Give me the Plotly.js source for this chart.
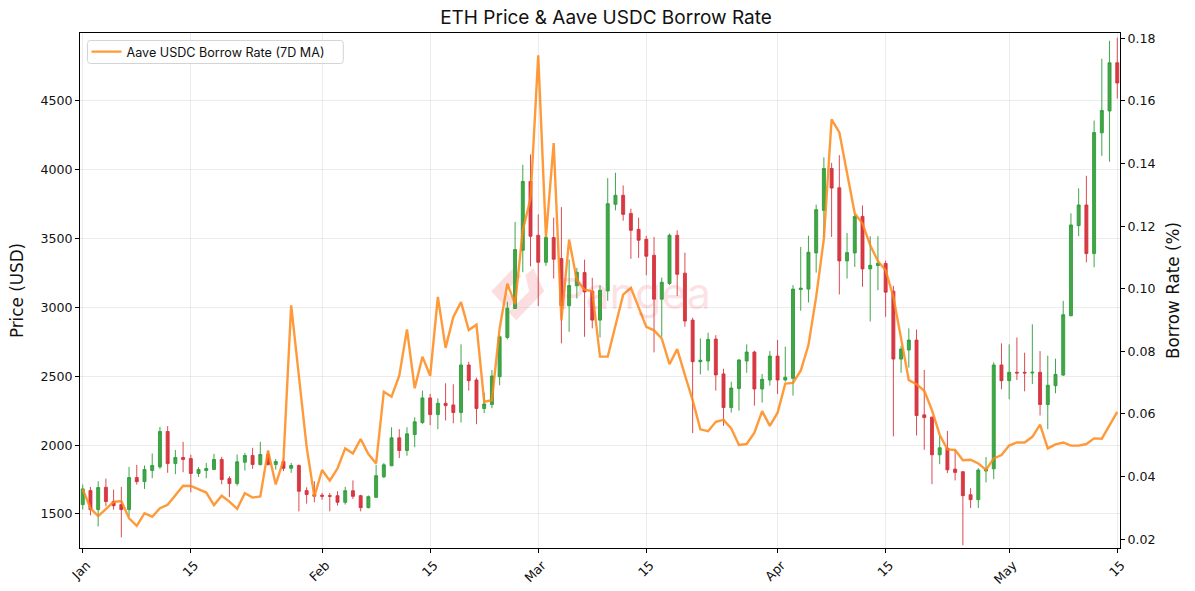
<!DOCTYPE html>
<html><head><meta charset="utf-8">
<script src="https://cdn.plot.ly/plotly-3.0.1.min.js"></script>
<style>html,body{margin:0;padding:0;background:#fff}</style></head>
<body><div id="chart" style="width:1195px;height:591px"></div>
<script>
const startDate = '2025-01-01';
const open = [1568,1670,1532,1694,1592,1568,1532,1765,1735,1816,1842,2099,1866,1910,1903,1794,1816,1823,1896,1757,1721,1876,1925,1859,1932,1859,1881,1832,1852,1670,1641,1636,1633,1633,1585,1669,1633,1546,1621,1770,1850,2053,1961,2077,2164,2343,2222,2304,2292,2237,2582,2473,2266,2295,2497,2782,2993,3415,3915,3524,3328,3507,3355,3012,3157,3253,3118,2908,3120,3749,3814,3683,3567,3495,3379,3060,3174,3524,3249,2908,2606,2611,2770,2517,2273,2411,2611,2676,2408,2473,2647,2473,2485,3130,3133,3396,3705,4009,3869,3338,3396,3661,3280,3304,3319,3118,2625,2691,2763,2220,2203,1930,1978,1826,1807,1640,1604,1812,1828,2582,2468,2529,2529,2524,2529,2295,2432,2509,2940,3594,3744,3391,4268,4427,4777];
const high = [1714,1697,1738,1757,1677,1697,1842,1857,1852,1939,2133,2138,1964,2024,1930,1840,1871,1937,1915,1774,1932,1944,1981,2024,1961,1900,1908,1871,1860,1694,1738,1653,1653,1665,1697,1744,1640,1635,1857,1870,2130,2116,2130,2203,2396,2372,2340,2449,2442,2732,2606,2490,2381,2546,2800,3041,3621,4036,4111,3676,3520,3652,3729,3347,3287,3347,3215,3162,3939,3978,3886,3717,3652,3519,3512,3217,3536,3560,3398,2925,2775,2816,2799,2555,2461,2625,2732,2686,2517,2683,2763,2715,3162,3439,3521,3746,4091,4050,4106,3541,3680,3741,3517,3517,3340,3157,2722,2848,2840,2546,2208,2070,2104,1966,1810,1688,1833,1913,2601,2739,2732,2782,2671,2877,2683,2650,2628,3048,3683,3865,3956,4357,4806,4937,4959];
const low = [1532,1490,1410,1556,1532,1330,1483,1713,1682,1760,1828,1799,1789,1803,1658,1769,1760,1818,1716,1624,1706,1815,1828,1852,1852,1823,1811,1799,1519,1575,1585,1604,1519,1561,1568,1609,1519,1541,1615,1761,1848,1906,1923,1985,2154,2145,2116,2179,2159,2164,2396,2152,2232,2268,2435,2768,2990,3256,3299,3010,3302,3210,2739,2823,3065,2787,2848,2782,3048,3705,3630,3353,3360,3234,2674,2787,3162,3084,2860,2087,2514,2541,2396,2140,2237,2251,2526,2287,2309,2432,2372,2461,2360,2976,3036,3253,3507,3512,3094,3210,3294,3150,2898,3125,2932,2063,2526,2563,2070,1966,1717,1862,1797,1744,1273,1543,1543,1729,1753,2406,2333,2473,2391,2444,2215,2116,2377,2502,2935,3517,3328,3292,4101,4058,4517];
const close = [1682,1532,1692,1590,1560,1532,1765,1735,1823,1852,2099,1866,1910,1896,1794,1823,1830,1896,1750,1721,1879,1925,1859,1932,1859,1881,1832,1852,1665,1641,1629,1629,1629,1585,1669,1628,1546,1626,1778,1857,2053,1961,2082,2169,2343,2222,2304,2287,2237,2582,2468,2266,2299,2502,2787,2995,3420,3915,3517,3328,3507,3350,3014,3159,3255,3113,2908,3125,3753,3814,3676,3560,3488,3372,3060,3183,3524,3241,2901,2606,2616,2768,2510,2273,2415,2618,2676,2408,2478,2647,2473,2493,3133,3140,3401,3710,4009,3867,3338,3398,3661,3280,3306,3321,3111,2625,2698,2763,2215,2200,1930,1981,1821,1802,1633,1604,1819,1826,2582,2468,2529,2524,2524,2529,2295,2435,2514,2947,3599,3744,3391,4270,4430,4777,4630];
const borrowRate = [.0360,.0299,.0274,.0296,.0319,.0322,.0267,.0243,.0283,.0272,.0299,.0310,.0339,.0371,.0370,.0359,.0349,.0309,.0339,.0320,.0297,.0347,.0333,.0337,.0483,.0375,.0453,.0947,.0724,.0495,.0336,.0421,.0387,.0426,.0490,.0474,.0520,.0472,.0442,.0671,.0655,.0722,.0870,.0682,.0783,.0722,.0974,.0811,.0910,.0957,.0868,.0885,.0639,.0644,.0873,.1016,.0951,.1187,.1288,.1745,.1165,.1465,.0899,.1157,.1027,.0997,.0992,.0783,.0783,.0878,.0981,.1003,.0942,.0878,.0867,.0841,.0759,.0807,.0724,.0644,.0551,.0545,.0575,.0581,.0554,.0501,.0504,.0540,.0609,.0562,.0604,.0697,.0699,.0738,.0820,.0974,.1160,.1541,.1499,.1367,.1240,.1208,.1139,.1088,.1059,.0974,.0846,.0708,.0695,.0674,.0612,.0533,.0487,.0485,.0452,.0454,.0442,.0421,.0458,.0469,.0499,.0509,.0509,.0527,.0566,.0490,.0503,.0509,.0499,.0499,.0504,.0522,.0521,.0564,.0607];
const xTickVals = ['2025-01-01','2025-01-15','2025-02-01','2025-02-15','2025-03-01','2025-03-15','2025-04-01','2025-04-15','2025-05-01','2025-05-15'];
const xTickText = ['Jan','15','Feb','15','Mar','15','Apr','15','May','15'];
const priceTicks = [1500,2000,2500,3000,3500,4000,4500];
const rateTicks = [0.02,0.04,0.06,0.08,0.10,0.12,0.14,0.16,0.18];
const seriesName = 'Aave USDC Borrow Rate (7D MA)';

const dates = open.map((_, i) => {
  const d = new Date(startDate + 'T00:00:00Z');
  d.setUTCDate(d.getUTCDate() + i);
  return d.toISOString().slice(0, 10);
});

const W = 1195, H = 591, ml = 79.5, mr = 75, mt = 32.5, mb = 43;
const fx = px => (px - ml) / (W - ml - mr);
const fy = py => 1 - (py - mt) / (H - mt - mb);
const P = (x, y) => fx(x).toFixed(4) + ',' + fy(y).toFixed(4);
const poly = pts => 'M' + pts.map(p => P(p[0], p[1])).join(' L') + ' Z';
const roundRect = (x0, y0, x1, y1, r) =>
  'M' + P(x0 + r, y0) + ' L' + P(x1 - r, y0) + ' Q' + P(x1, y0) + ' ' + P(x1, y0 + r) +
  ' L' + P(x1, y1 - r) + ' Q' + P(x1, y1) + ' ' + P(x1 - r, y1) +
  ' L' + P(x0 + r, y1) + ' Q' + P(x0, y1) + ' ' + P(x0, y1 - r) +
  ' L' + P(x0, y0 + r) + ' Q' + P(x0, y0) + ' ' + P(x0 + r, y0) + ' Z';
const logoColor = 'rgba(240,70,90,0.18)';
const logoLeft = [[491,291],[513,268],[521,276],[505,291],[515,301],[507,309]];
const logoRight = [[525,275],[533,268],[544,291],[516,320],[508,312],[529,291]];

const TICK_FONT = {family:'DejaVu Sans', size:12.6, color:'#111'};
const GRID = 'rgba(200,200,200,0.35)';

const candles = {
  type:'candlestick', x:dates, open, high, low, close, showlegend:false, hoverinfo:'skip',
  whiskerwidth:0,
  increasing:{line:{color:'rgba(48,158,60,0.92)', width:1}, fillcolor:'#43A547'},
  decreasing:{line:{color:'rgba(214,50,60,0.88)', width:1}, fillcolor:'#D63A44'},
  xaxis:'x', yaxis:'y'
};
const rateLine = {
  type:'scatter', mode:'lines', x:dates, y:borrowRate, name:seriesName,
  line:{color:'rgba(255,136,25,0.85)', width:2.4}, xaxis:'x', yaxis:'y2', hoverinfo:'skip'
};
const layout = {
  width:W, height:H, paper_bgcolor:'#fff', plot_bgcolor:'#fff',
  margin:{l:ml, r:mr, t:mt, b:mb, pad:0},
  title:{text:'ETH Price & Aave USDC Borrow Rate', font:{family:'Inter', size:19, color:'#111'}, x:606/W, xanchor:'center', y:1-17/H, yanchor:'middle'},
  boxgap:0.45,
  showlegend:true,
  legend:{x:fx(86), y:fy(51.5), xanchor:'left', yanchor:'middle', bgcolor:'rgba(255,255,255,0)', borderwidth:0, font:{family:'Inter', size:12.6, color:'#111'}},
  xaxis:{type:'date', range:['2024-12-31 15:30','2025-05-15 08:30'], rangeslider:{visible:false}, tickmode:'array', tickvals:xTickVals, ticktext:xTickText, tickangle:-45, ticklabelshift:4, tickfont:TICK_FONT, ticks:'outside', ticklen:4, tickcolor:'#000', showgrid:true, gridcolor:GRID, gridwidth:1, showline:true, linecolor:'#000', linewidth:1, mirror:true, zeroline:false},
  yaxis:{range:[1253,4993], tickmode:'array', tickvals:priceTicks, tickfont:TICK_FONT, ticks:'outside', ticklen:4, tickcolor:'#000', showgrid:true, gridcolor:GRID, gridwidth:1, showline:true, linecolor:'#000', linewidth:1, zeroline:false, title:{text:'Price (USD)', font:{family:'DejaVu Sans', size:16.8, color:'#111'}, standoff:12}},
  yaxis2:{overlaying:'y', side:'right', range:[0.0172,0.18166], tickmode:'array', tickvals:rateTicks, ticktext:rateTicks.map(v=>v.toFixed(2)), tickfont:TICK_FONT, ticks:'outside', ticklen:4, tickcolor:'#000', showgrid:false, showline:true, linecolor:'#000', linewidth:1, zeroline:false, title:{text:'Borrow Rate (%)', font:{family:'DejaVu Sans', size:16.8, color:'#111'}, standoff:12}},
  shapes:[
    {type:'path', xref:'paper', yref:'paper', path:poly(logoLeft), fillcolor:logoColor, line:{width:0}, layer:'below'},
    {type:'path', xref:'paper', yref:'paper', path:poly(logoRight), fillcolor:logoColor, line:{width:0}, layer:'below'},
    {type:'path', xref:'paper', yref:'paper', path:roundRect(87,40,343,63,3), fillcolor:'rgba(255,255,255,0.85)', line:{width:1, color:'#d4d4d4'}, layer:'above'}
  ],
  annotations:[{text:'Pangea', xref:'paper', yref:'paper', x:fx(556), y:fy(293), xanchor:'left', yanchor:'middle', showarrow:false, font:{family:'Inter', size:43, color:'rgba(240,70,90,0.18)'}}]
};
Plotly.newPlot('chart', [candles, rateLine], layout, {displayModeBar:false, staticPlot:true});
</script></body></html>
